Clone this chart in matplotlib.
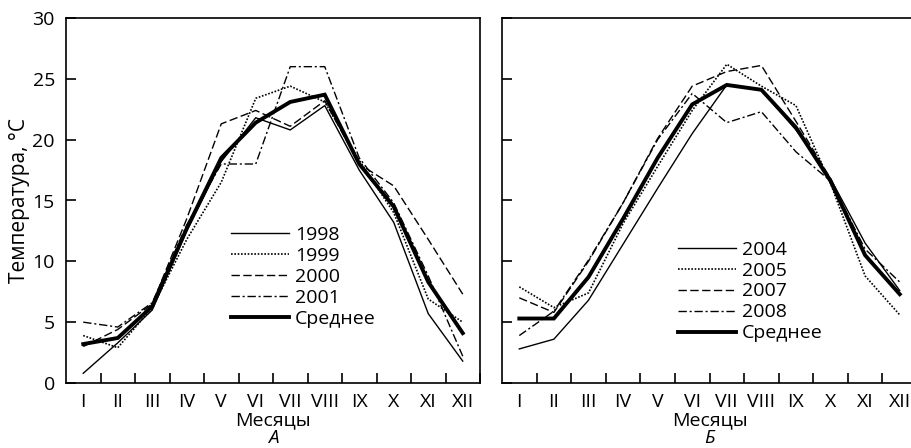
import matplotlib
matplotlib.use("Agg")
import matplotlib.pyplot as plt
import numpy as np

plt.rcParams["font.family"] = ["Open Sans", "DejaVu Sans"]

months = ["I", "II", "III", "IV", "V", "VI", "VII", "VIII", "IX", "X", "XI", "XII"]

# panel A
y1998 = [0.8, 3.3, 6.0, 12.5, 18.2, 21.8, 20.8, 22.8, 17.5, 13.2, 5.7, 1.8]
y1999 = [3.9, 2.9, 6.2, 11.8, 16.5, 23.4, 24.4, 23.1, 18.3, 14.0, 6.9, 5.0]
y2000 = [3.0, 4.4, 6.5, 13.5, 21.3, 22.4, 21.1, 23.2, 18.0, 16.2, 11.8, 7.3]
y2001 = [5.0, 4.6, 6.6, 13.0, 18.0, 18.0, 26.0, 26.0, 18.5, 14.8, 8.8, 2.2]
avg_a = [3.2, 3.7, 6.3, 12.7, 18.5, 21.4, 23.1, 23.7, 18.0, 14.5, 8.3, 4.1]

# panel B
y2004 = [2.8, 3.6, 6.8, 11.4, 16.0, 20.5, 24.5, 24.1, 20.8, 16.8, 11.5, 7.6]
y2005 = [7.9, 6.2, 7.4, 13.1, 17.8, 22.4, 26.2, 24.4, 22.8, 16.4, 8.8, 5.6]
y2007 = [7.0, 5.8, 10.0, 14.8, 20.1, 24.4, 25.6, 26.1, 21.5, 16.8, 10.5, 7.3]
y2008 = [3.9, 5.9, 10.1, 14.8, 20.0, 23.8, 21.4, 22.3, 19.0, 16.6, 11.0, 8.3]
avg_b = [5.3, 5.3, 8.7, 13.5, 18.5, 22.9, 24.5, 24.1, 21.0, 16.6, 10.5, 7.3]

styles = [
    dict(ls="-", lw=1.0),
    dict(ls=(0, (1, 1.0)), lw=1.2),
    dict(ls=(0, (6, 2.5)), lw=1.0),
    dict(ls=(0, (6, 2, 1.5, 2)), lw=1.0),
    dict(ls="-", lw=2.8),
]

FS = 14
x = np.arange(1, 13)
fig = plt.figure(figsize=(9.11, 4.48), dpi=100)
W, H = 911, 448
bottom, height = (H - 383) / H, 365 / H
ax_a = fig.add_axes([66 / W, bottom, 414 / W, height])
ax_b = fig.add_axes([502 / W, bottom, 415 / W, height])

panels = [
    (ax_a, [y1998, y1999, y2000, y2001, avg_a], ["1998", "1999", "2000", "2001", "Среднее"], "А", (0.398, 0.43)),
    (ax_b, [y2004, y2005, y2007, y2008, avg_b], ["2004", "2005", "2007", "2008", "Среднее"], "Б", (0.424, 0.39)),
]

for ax, series, labels, letter, lpos in panels:
    for s, lab, st in zip(series, labels, styles):
        ax.plot(x, s, color="black", label=lab, solid_joinstyle="miter", **st)
    ax.set_xlim(0.5, 12.5)
    ax.set_ylim(0, 30)
    ax.set_xticks(np.arange(1.5, 13, 1))
    ax.set_xticklabels([])
    ax.set_xticks(x, minor=True)
    ax.set_xticklabels(months, minor=True, fontsize=FS)
    ax.tick_params(axis="x", which="major", direction="in", length=7, width=1.2)
    ax.tick_params(axis="x", which="minor", length=0, pad=7)
    ax.set_yticks(range(0, 31, 5))
    ax.tick_params(axis="y", direction="in", length=7, width=1.2, labelsize=FS, pad=8)
    for sp in ax.spines.values():
        sp.set_linewidth(1.2)
    ax.text(0.5, -0.078, "Месяцы", transform=ax.transAxes, ha="center", va="top", fontsize=FS)
    ax.text(0.5, -0.126, letter, transform=ax.transAxes, ha="center", va="top",
            fontsize=13.5, style="italic")
    ax.legend(loc="upper left", bbox_to_anchor=lpos, frameon=False, fontsize=FS,
              handlelength=3.0, handletextpad=0.3, labelspacing=0.15, borderpad=0,
              borderaxespad=0)

ax_a.set_ylabel("Температура, °С", fontsize=15, labelpad=2)
ax_b.set_yticklabels([])

fig.savefig("out.png", dpi=100)
